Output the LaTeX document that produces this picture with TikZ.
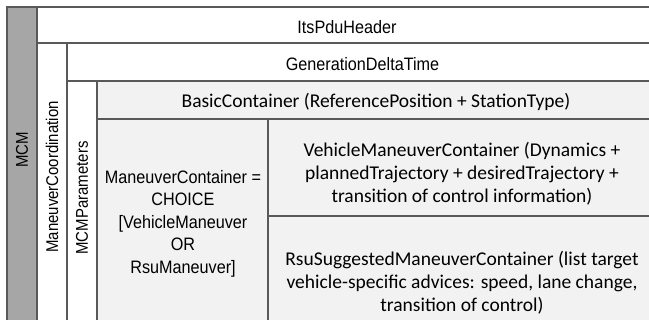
\documentclass[tikz,border=0pt]{standalone}
\usepackage{fontspec}
\newfontfamily\arnfont[FakeStretch=0.9]{Liberation Sans}
\newfontfamily\arnvfont[FakeStretch=0.88]{Liberation Sans}
\newfontfamily\calfont{Carlito}
\definecolor{linec}{HTML}{595959}
\definecolor{mcmgray}{HTML}{A6A6A6}
\definecolor{lightf}{HTML}{F2F2F2}
\begin{document}
\begin{tikzpicture}[x=1pt,y=-1pt,
  cell/.style={draw=linec,line width=1.3pt},
  atxt/.style={font=\arnfont\fontsize{18}{22.5}\selectfont,align=center,inner sep=0pt,text=black,anchor=base},
  vtxt/.style={font=\arnvfont\fontsize{17}{20}\selectfont,inner sep=0pt,text=black,rotate=90},
  ctxt/.style={font=\calfont\fontsize{19.5}{23.3}\selectfont,align=center,inner sep=0pt,text=black,anchor=base}]
\useasboundingbox (0,0) rectangle (649,320);
\clip (0,0) rectangle (649,320);
% cells
\path[cell,fill=mcmgray] (7,7) rectangle (37,340);
\path[cell,fill=white] (37,7) rectangle (670,43);
\path[cell,fill=white] (37,43) rectangle (67,340);
\path[cell,fill=white] (67,43) rectangle (670,81);
\path[cell,fill=white] (67,81) rectangle (97,340);
\path[cell,fill=lightf] (97,81) rectangle (670,119);
\path[cell,fill=lightf] (97,119) rectangle (268,340);
\path[cell,fill=lightf] (268,119) rectangle (670,216);
\path[cell,fill=lightf] (268,216) rectangle (670,340);
% texts (multi-line nodes: base = baseline of last line)
\node[vtxt] (mcm) at (22,150) {MCM};
\node[vtxt] (mcoord) at (52,177) {ManeuverCoordination};
\node[vtxt] (mcmpar) at (82,198) {MCMParameters};
\node[atxt] (hdr) at (347,34) {ItsPduHeader};
\node[atxt] (gdt) at (362.5,70.5) {GenerationDeltaTime};
\node[ctxt] (basic) at (376,108) {BasicContainer (ReferencePosition + StationType)};
\node[atxt] (mc) at (183,273.5) {ManeuverContainer =\\CHOICE\\{}[VehicleManeuver\\OR\\RsuManeuver]};
\node[ctxt] (vmc) at (462,203) {VehicleManeuverContainer (Dynamics +\\plannedTrajectory + desiredTrajectory +\\transition of control information)};
\node[ctxt] (rsu) at (462,312) {RsuSuggestedManeuverContainer (list target\\vehicle-specific advices: speed, lane change,\\transition of control)};
\end{tikzpicture}
\end{document}
